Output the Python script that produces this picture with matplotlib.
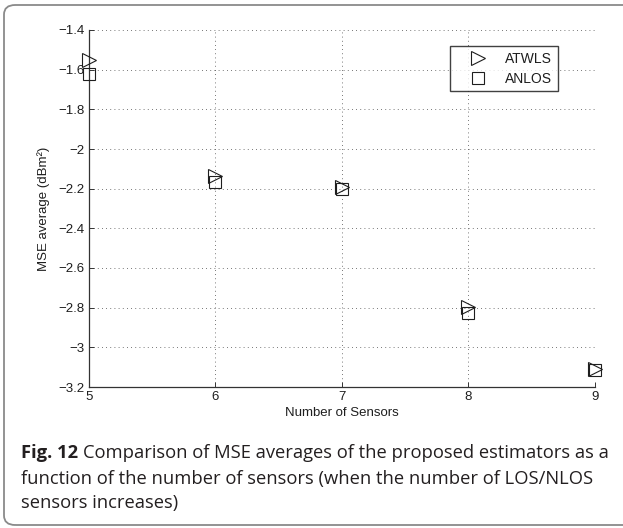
import matplotlib
matplotlib.use("Agg")
import matplotlib.pyplot as plt
from matplotlib.patches import FancyBboxPatch

# Data: MSE averages per number of sensors
sensors = [5, 6, 7, 8, 9]
atwls = [-1.551, -2.136, -2.192, -2.795, -3.108]
anlos = [-1.621, -2.165, -2.203, -2.829, -3.113]

x_ticks = [5, 6, 7, 8, 9]
y_ticks = [-3.2, -3.0, -2.8, -2.6, -2.4, -2.2, -2.0, -1.8, -1.6, -1.4]
y_tick_labels = ["\u22123.2", "\u22123", "\u22122.8", "\u22122.6", "\u22122.4",
                 "\u22122.2", "\u22122", "\u22121.8", "\u22121.6", "\u22121.4"]

series_names = ["ATWLS", "ANLOS"]
x_label = "Number of Sensors"
y_label = "MSE average (dBm\u00b2)"
caption_bold = "Fig. 12"
caption_lines = [
    "Comparison of MSE averages of the proposed estimators as a",
    "function of the number of sensors (when the number of LOS/NLOS",
    "sensors increases)",
]

W, H = 623, 528
DPI = 100
fig = plt.figure(figsize=(W / DPI, H / DPI), dpi=DPI)
fig.patch.set_facecolor("white")

# rounded frame around the figure (open on the right side)
frame = FancyBboxPatch((4 / W, 1 - 525 / H), (660 - 4) / W, (525 - 5) / H,
                       boxstyle="round,pad=0,rounding_size=0.018",
                       transform=fig.transFigure, facecolor="none",
                       edgecolor="#8a8a8a", linewidth=1.3, clip_on=False)
fig.patches.append(frame)

chart_font = "Liberation Sans"
ink = "#1e1e1e"

ax = fig.add_axes([89 / W, 1 - 387 / H, (595 - 89) / W, (387 - 30) / H])
ax.set_xlim(5, 9)
ax.set_ylim(-3.2, -1.4)

ax.plot(sensors, atwls, linestyle="none", marker=">", markersize=9.5,
        markerfacecolor="none", markeredgecolor=ink, markeredgewidth=0.8,
        clip_on=False, label=series_names[0], zorder=3)
ax.plot(sensors, anlos, linestyle="none", marker="s", markersize=8.3,
        markerfacecolor="none", markeredgecolor=ink, markeredgewidth=0.8,
        clip_on=False, label=series_names[1], zorder=3)

ax.set_xticks(x_ticks)
ax.set_xticklabels([str(v) for v in x_ticks], fontfamily=chart_font, fontsize=9.5)
ax.set_yticks(y_ticks)
ax.set_yticklabels(y_tick_labels, fontfamily=chart_font, fontsize=9.5)

ax.grid(True, color="#4a4a4a", linewidth=0.6, linestyle=(0, (1, 4)))
ax.set_axisbelow(True)
for side in ("top", "right"):
    ax.spines[side].set_visible(False)
for side in ("left", "bottom"):
    ax.spines[side].set_color("#333333")
    ax.spines[side].set_linewidth(0.9)
ax.tick_params(direction="in", length=3.5, width=0.7, colors="#333333",
               labelcolor=ink, pad=3)

ax.set_xlabel(x_label, fontfamily=chart_font, fontsize=9.5, color=ink, labelpad=3)
ax.set_ylabel(y_label, fontfamily=chart_font, fontsize=9.5, color=ink, labelpad=6)

leg = ax.legend(loc="upper right", bbox_to_anchor=(558 / W, 1 - 46 / H),
                bbox_transform=fig.transFigure, borderaxespad=0,
                prop={"family": chart_font, "size": 10}, frameon=True,
                fancybox=False, handlelength=3.3, handletextpad=0.3,
                borderpad=0.4, labelspacing=0.45, numpoints=1)
leg.get_frame().set_edgecolor("#111111")
leg.get_frame().set_linewidth(1.0)
for t in leg.get_texts():
    t.set_color(ink)

# caption below the chart
cap_font = "Open Sans"
cap_size = 13.2
cap_color = "#231f20"
x0 = 21 / W
baselines = [458, 484, 508]
renderer = fig.canvas.get_renderer()
tb = fig.text(x0, 1 - baselines[0] / H, caption_bold, fontfamily=cap_font,
              fontweight="bold", fontsize=cap_size, color=cap_color, va="baseline")
bb = tb.get_window_extent(renderer=renderer)
space = cap_size * DPI / 72 * 0.26
fig.text((bb.x1 + space) / W, 1 - baselines[0] / H, caption_lines[0],
         fontfamily=cap_font, fontsize=cap_size, color=cap_color, va="baseline")
for line, base in zip(caption_lines[1:], baselines[1:]):
    fig.text(x0, 1 - base / H, line, fontfamily=cap_font, fontsize=cap_size,
             color=cap_color, va="baseline")

fig.savefig("out.png", dpi=DPI, facecolor="white")
